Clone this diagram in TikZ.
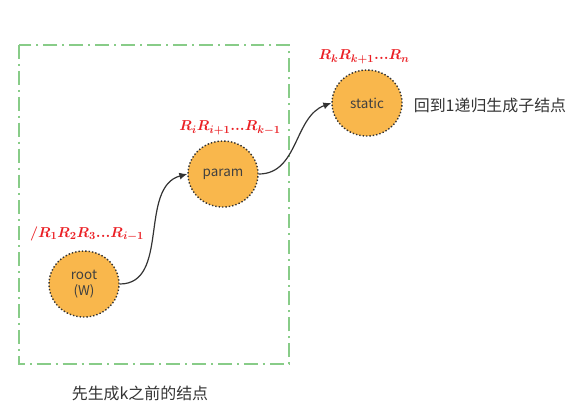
\documentclass[tikz,border=0pt]{standalone}
\usepackage{fontspec}
\usepackage{amsmath}
\setsansfont{Noto Sans CJK SC}
\newfontfamily\cjk{Noto Sans CJK SC}
\usetikzlibrary{shapes.geometric,arrows.meta}
\definecolor{blobfill}{RGB}{249,183,76}
\definecolor{boxgreen}{RGB}{136,204,136}
\definecolor{labelred}{RGB}{235,30,35}
\newcommand{\bdots}{\text{\textbf{...}}}
\tikzset{
  blob/.style={ellipse, draw=black!80, dotted, line width=1.4pt, fill=blobfill,
    minimum width=70bp, minimum height=66bp, inner sep=0pt, align=center,
    font=\sffamily\fontsize{13.5}{16}\selectfont, text=black!75},
  seq/.style={text=labelred, font=\fontsize{15.5}{17}\selectfont\boldmath, inner sep=0pt},
  note/.style={font=\cjk\fontsize{16}{18}\selectfont, text=black!80, inner sep=0pt},
  link/.style={-{Latex[length=8pt,width=7pt]}, line width=1.2pt, draw=black!80}
}
\begin{document}
\begin{tikzpicture}[x=1bp,y=-1bp]
  \useasboundingbox[fill=white] (0,0) rectangle (569,413);
  \draw[boxgreen, line width=1.8pt, dash pattern=on 14pt off 5pt on 2pt off 5pt]
    (19,45) rectangle (289,364);
  \draw
    (87,234) node[seq] (pre){$/R_1R_2R_3\bdots R_{i-1}$}
    (230,128) node[seq] (mid){$R_iR_{i+1}\bdots R_{k-1}$}
    (364,57) node[seq] (post){$R_kR_{k+1}\bdots R_n$}
    (490,105) node[note] (back){回到1递归生成子结点}
    (140,393) node[note] (before){先生成k之前的结点};
  \draw
    (84,284) node[blob] (root){root\\(W)}
    (223,174) node[blob] (param){param}
    (367,103) node[blob] (static){static};
  \begin{scope}[link]
    \draw (root.east) to[out=0,in=195] (param.west);
    \draw (param.east) to[out=0,in=200] (static.west);
  \end{scope}
\end{tikzpicture}
\end{document}
